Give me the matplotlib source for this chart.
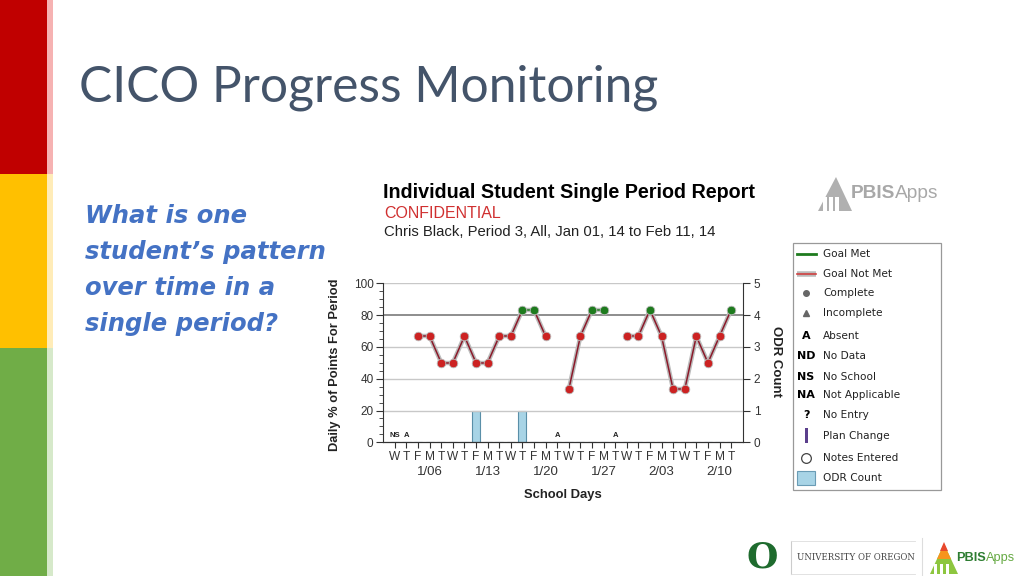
import numpy as np
import matplotlib
matplotlib.use("Agg")
import matplotlib.pyplot as plt
from matplotlib.patches import Rectangle, Polygon
from matplotlib.transforms import blended_transform_factory

# ---------------- data ----------------
day_letters = ['W', 'T', 'F', 'M', 'T', 'W', 'T', 'F', 'M', 'T',
               'W', 'T', 'F', 'M', 'T', 'W', 'T', 'F', 'M', 'T',
               'W', 'T', 'F', 'M', 'T', 'W', 'T', 'F', 'M', 'T']
nan = np.nan
daily_pct = [nan, nan, 66.7, 66.7, 50.0, 50.0, 66.7, 50.0, 50.0, 66.7,
             66.7, 83.3, 83.3, 66.7, nan, 33.3, 66.7, 83.3, 83.3, nan,
             66.7, 66.7, 83.3, 66.7, 33.3, 33.3, 66.7, 50.0, 66.7, 83.3]
odr_count = [0, 0, 0, 0, 0, 0, 0, 1, 0, 0,
             0, 1, 0, 0, 0, 0, 0, 0, 0, 0,
             0, 0, 0, 0, 0, 0, 0, 0, 0, 0]
status_idx = [0, 1, 14, 19]
status_codes = ['NS', 'A', 'A', 'A']
week_idx = [3, 8, 13, 18, 23, 28]
week_labels = ['1/06', '1/13', '1/20', '1/27', '2/03', '2/10']
goal = 80
legend_labels = ['Goal Met', 'Goal Not Met', 'Complete', 'Incomplete', 'Absent',
                 'No Data', 'No School', 'Not Applicable', 'No Entry',
                 'Plan Change', 'Notes Entered', 'ODR Count']

FONT = ['Liberation Sans', 'DejaVu Sans']
plt.rcParams['font.family'] = FONT

fig = plt.figure(figsize=(10.24, 5.76), dpi=100)
fig.patch.set_facecolor('white')

# ---------------- slide overlay (pixel coords) ----------------
ov = fig.add_axes([0, 0, 1, 1], zorder=0)
ov.set_xlim(0, 1024)
ov.set_ylim(576, 0)
ov.axis('off')
renderer = fig.canvas.get_renderer()


def chain_text(x0, y, parts, **common):
    """Draw text pieces one after another, starting at pixel x0."""
    xx = x0
    for txt, kw in parts:
        opts = dict(common)
        opts.update(kw)
        t = ov.text(xx, y, txt, va='center', ha='left', **opts)
        bb = t.get_window_extent(renderer=renderer)
        xx += bb.width
    return xx


# left colour strip
ov.add_patch(Rectangle((0, 0), 47, 174, color='#C00000', lw=0))
ov.add_patch(Rectangle((47, 0), 6, 174, color='#F08080', lw=0, alpha=0.6))
ov.add_patch(Rectangle((0, 174), 47, 174, color='#FFC000', lw=0))
ov.add_patch(Rectangle((47, 174), 6, 174, color='#FFE08A', lw=0, alpha=0.6))
ov.add_patch(Rectangle((0, 348), 47, 228, color='#70AD47', lw=0))
ov.add_patch(Rectangle((47, 348), 6, 228, color='#C5E0B4', lw=0, alpha=0.7))

# slide title
ov.text(79, 88, 'CICO Progress Monitoring', fontsize=35.8, color='#44546A',
        family=['Lato', 'DejaVu Sans'], weight='normal', va='center', ha='left')

# question text
q_lines = ["What is one", "student\u2019s pattern", "over time in a", "single period?"]
for i, t in enumerate(q_lines):
    ov.text(85, 216 + i * 36, t, fontsize=17.5, color='#4472C4', style='italic',
            weight='bold', family=['DejaVu Sans'], va='center', ha='left')

# report headings
ov.text(383, 193, 'Individual Student Single Period Report', fontsize=14.2,
        weight='bold', color='black', va='center', ha='left')
ov.text(384, 213, 'CONFIDENTIAL', fontsize=11.5, color='#D03030',
        va='center', ha='left')
ov.text(384, 232, 'Chris Black, Period 3, All, Jan 01, 14 to Feb 11, 14',
        fontsize=10.7, color='#222222', va='center', ha='left')

# PBISApps logo (top right, grey)
ov.add_patch(Polygon([[818, 211], [836, 177], [852, 211]], closed=True,
                     color='#B0B0B0', lw=0))
for bx in (823, 829, 835):
    ov.add_patch(Rectangle((bx, 197), 3.5, 14, color='white', lw=0))
chain_text(851, 194, [('PBIS', dict(weight='bold')), ('Apps', {})],
           fontsize=13.8, color='#A8A8A8')

# legend box
LFONT = ['DejaVu Sans']
ov.add_patch(Rectangle((793, 243), 148, 247, fill=False, ec='#999999', lw=0.9))
leg_y = [254, 274, 293, 313, 336, 356, 377, 395, 415, 436, 458, 478]
sx, tx = 806, 823
for y, lab in zip(leg_y, legend_labels):
    ov.text(tx, y, lab, fontsize=7.6, color='#222222', va='center', ha='left',
            family=LFONT)
ov.plot([797, 816], [leg_y[0], leg_y[0]], color='#1E7B1E', lw=2)
ov.plot([797, 816], [leg_y[1], leg_y[1]], color='#BBBBBB', lw=4, solid_capstyle='butt')
ov.plot([797, 816], [leg_y[1], leg_y[1]], color='#D04040', lw=1.2)
ov.plot([sx], [leg_y[2]], 'o', color='#666666', ms=4)
ov.plot([sx], [leg_y[3]], '^', color='#666666', ms=4.5)
for y, code in zip(leg_y[4:9], ['A', 'ND', 'NS', 'NA', '?']):
    ov.text(sx, y, code, fontsize=8, weight='bold', color='black',
            va='center', ha='center', family=LFONT)
ov.add_patch(Rectangle((804.5, leg_y[9] - 8), 3, 15, color='#5B3F8C', lw=0))
ov.plot([sx], [leg_y[10]], 'o', mfc='white', mec='#444444', ms=7, mew=0.9)
ov.add_patch(Rectangle((797, leg_y[11] - 7), 18, 14, fc='#A8D4E6', ec='#6A9CB5', lw=0.8))

# bottom logos
ov.text(762, 557, 'O', fontsize=26, weight='bold', color='#1E6B2E',
        family=['DejaVu Serif'], va='center', ha='center')
ov.plot([791, 791], [541, 574], color='#CCCCCC', lw=0.8)
ov.plot([791, 915], [541, 541], color='#DDDDDD', lw=0.6)
ov.plot([791, 915], [574, 574], color='#DDDDDD', lw=0.6)
ov.text(797, 557, 'UNIVERSITY OF OREGON', fontsize=6.2, color='#444444',
        family=['DejaVu Serif'], va='center', ha='left')
ov.plot([922, 922], [538, 576], color='#DDDDDD', lw=0.8)
ov.add_patch(Polygon([[930, 574], [944, 544], [958, 574]], closed=True,
                     color='#8DC63F', lw=0))
ov.add_patch(Polygon([[937, 559], [944, 544], [951, 559]], closed=True,
                     color='#F7941D', lw=0))
ov.add_patch(Polygon([[940, 551], [944, 542], [948, 551]], closed=True,
                     color='#E8482C', lw=0))
for bx in (934, 940, 946):
    ov.add_patch(Rectangle((bx, 564), 3, 10, color='white', lw=0))
chain_text(956, 558, [('PBIS', dict(weight='bold', color='#2E7D32')),
                      ('Apps', dict(color='#66AA44'))], fontsize=9.2)

# ---------------- chart ----------------
ax = fig.add_axes([0.3743, 0.2321, 0.3510, 0.2760], zorder=2)
ax.set_facecolor('none')
n = len(day_letters)
x = np.arange(n)
ax.set_xlim(-1, 30)
ax.set_ylim(0, 100)

for g in (20, 40, 60, 100):
    ax.axhline(g, color='#C8C8C8', lw=1.0, zorder=1)
ax.axhline(goal, color='#7A7A7A', lw=1.2, zorder=1)

ax2 = ax.twinx()
ax2.set_ylim(0, 5)
ax2.bar(x, odr_count, width=0.7, color='#A8D4E6', edgecolor='#5A8FA8',
        lw=0.8, zorder=2)
ax2.set_zorder(1)
ax.set_zorder(3)

vals = np.array(daily_pct, dtype=float)
for i in range(n - 1):
    if np.isnan(vals[i]) or np.isnan(vals[i + 1]):
        continue
    met = vals[i] >= goal and vals[i + 1] >= goal
    ax.plot(x[i:i + 2], vals[i:i + 2], color='#BBBBBB', lw=3.2,
            solid_capstyle='round', zorder=3)
    ax.plot(x[i:i + 2], vals[i:i + 2], color='#1E7B1E' if met else '#8B1A2A',
            lw=1.1, zorder=4)
for i in range(n):
    if np.isnan(vals[i]):
        continue
    c = '#1E7B1E' if vals[i] >= goal else '#CC2222'
    ax.plot(x[i], vals[i], 'o', color=c, ms=6.2, mec='#BBBBBB', mew=0.6, zorder=5)

for i, code in zip(status_idx, status_codes):
    ax.text(x[i], 4.5, code, fontsize=5.5, weight='bold', color='#222222',
            ha='center', va='center', zorder=6)

ax.spines['top'].set_visible(False)
ax.spines['right'].set_visible(False)
ax2.spines['top'].set_visible(False)
ax2.spines['left'].set_visible(False)
for s in ('left', 'bottom'):
    ax.spines[s].set_color('#333333')
ax2.spines['right'].set_color('#333333')

ax.set_yticks([0, 20, 40, 60, 80, 100])
ax.set_yticks(np.arange(0, 101, 5), minor=True)
ax.tick_params(axis='y', which='major', length=5, labelsize=8.5,
               colors='#333333', pad=2)
ax.tick_params(axis='y', which='minor', length=3, color='#333333')
ax.set_xticks(x)
ax.set_xticklabels(day_letters)
ax.tick_params(axis='x', length=4, labelsize=8.6, colors='#333333', pad=2)
ax2.set_yticks([0, 1, 2, 3, 4, 5])
ax2.tick_params(axis='y', length=5, labelsize=8.5, colors='#333333', pad=3)

trans = blended_transform_factory(ax.transData, ax.transAxes)
for i, lab in zip(week_idx, week_labels):
    ax.text(x[i], -0.15, lab, transform=trans, fontsize=9.5, color='#333333',
            ha='center', va='top')

ov.text(335, 365, 'Daily % of Points For Period', rotation=90, fontsize=9.3,
        weight='bold', color='#222222', va='center', ha='center')
ov.text(776, 362, 'ODR Count', rotation=-90, fontsize=9.5, weight='bold',
        color='#222222', va='center', ha='center')
ov.text(563, 495, 'School Days', fontsize=9.4, weight='bold', color='#222222',
        va='center', ha='center')

fig.savefig('out.png', dpi=100, facecolor='white')
